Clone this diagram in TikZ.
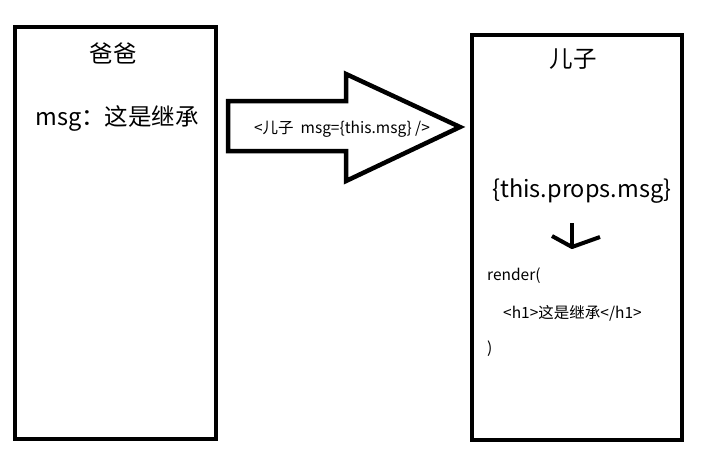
\documentclass[tikz,border=0pt]{standalone}
\usepackage{fontspec}
\setmainfont{Noto Sans CJK SC}
\begin{document}
\begin{tikzpicture}[x=1pt,y=-1pt,
  box/.style={draw=black, line width=4.5pt, minimum width=#1},
  big/.style={font=\fontsize{23.5}{27}\selectfont, inner sep=0pt},
  small/.style={font=\fontsize{15.5}{18}\selectfont, inner sep=0pt},
  thickline/.style={line width=4.5pt, line join=miter}]
\useasboundingbox (0,0) rectangle (703,475);
\fill[white] (0,0) rectangle (703,475);
\node[box=201pt, minimum height=412pt] (dad) at (115.5,233) {};
\node[box=210pt, minimum height=405pt] (son) at (577,237.5) {};
\node[big] (dadtitle) at (113,53) {爸爸};
\node[big] (dadmsg) at (117,118) {msg：这是继承};
\node[big] (sontitle) at (573,59) {儿子};
\node[big] (props) at (582,191) {\{this.props.msg\}};
\draw[thickline] (228,101) -- (346,101) -- (346,74) -- (460,127) -- (346,181) -- (346,151) -- (228,151) -- cycle;
\node[small] (call) at (342,129) {<儿子\ \ msg=\{this.msg\} />};
\coordinate (stemtop) at (572,223);
\coordinate (stembot) at (572,247);
\draw[line width=4.5pt] (stemtop) -- (stembot);
\draw[line width=4pt, line join=round] (552,236) -- (stembot) -- (600,237);
\node[small, anchor=west] (render) at (487,276) {render(};
\node[small, anchor=west] (h1) at (503,313) {<h1>这是继承</h1>};
\node[small, anchor=west] (close) at (487,349) {)};
\end{tikzpicture}
\end{document}
